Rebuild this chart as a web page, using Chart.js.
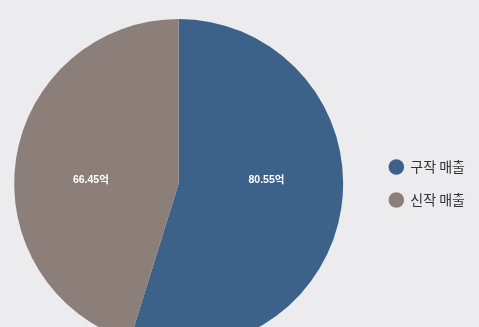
<!DOCTYPE html>
<html>
<head>
<meta charset="utf-8">
<script src="https://cdn.jsdelivr.net/npm/chart.js@4"></script>
<style>
  html, body { margin: 0; padding: 0; background: #ececee; overflow: hidden; }
  #wrap { width: 492px; height: 367px; position: relative; left: -13px; }
</style>
</head>
<body>
<div id="wrap"><canvas id="c"></canvas></div>
<script>
// 구작/신작 매출 비중 (단위: 억)
const labels = ['구작 매출', '신작 매출'];
const sales = [80.55, 66.45];
const colours = ['#3d6289', '#8c7f7a'];

// value labels inside slices
const sliceLabels = {
  id: 'sliceLabels',
  afterDatasetsDraw(chart) {
    const { ctx } = chart;
    const meta = chart.getDatasetMeta(0);
    ctx.save();
    ctx.fillStyle = '#ffffff';
    ctx.font = 'bold 10.5px "Liberation Sans", "Noto Sans CJK KR", sans-serif';
    ctx.textAlign = 'center';
    ctx.textBaseline = 'middle';
    meta.data.forEach((arc, i) => {
      const { x, y, startAngle, endAngle, outerRadius } = arc.getProps(['x', 'y', 'startAngle', 'endAngle', 'outerRadius'], true);
      const mid = (startAngle + endAngle) / 2;
      const lx = x + Math.cos(mid) * outerRadius * 0.54;
      ctx.fillText(`${sales[i].toFixed(2)}억`, lx, y - 3);
    });
    ctx.restore();
  },
};

new Chart(document.getElementById('c'), {
  type: 'pie',
  data: {
    labels,
    datasets: [{
      data: sales,
      backgroundColor: colours,
      borderWidth: 0,
    }],
  },
  options: {
    responsive: true,
    maintainAspectRatio: false,
    animation: false,
    layout: { padding: { top: 19, bottom: 19, left: 0, right: 4 } },
    plugins: {
      tooltip: { enabled: false },
      legend: {
        position: 'right',
        align: 'center',
        labels: {
          usePointStyle: true,
          pointStyle: 'circle',
          boxHeight: 11,
          padding: 19,
          color: '#333333',
          font: { size: 14, family: '"Noto Sans CJK KR", "Noto Sans", sans-serif' },
        },
      },
    },
  },
  plugins: [sliceLabels],
});
</script>
</body>
</html>
